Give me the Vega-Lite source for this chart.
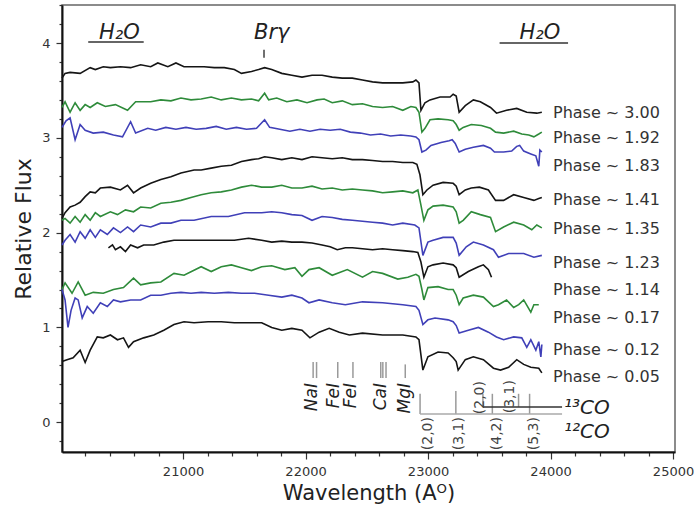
{
  "$schema": "https://vega.github.io/schema/vega-lite/v6.json",
  "width": 613,
  "height": 447,
  "autosize": {"type": "none"},
  "padding": {"left": 62, "top": 5, "right": 19, "bottom": 64},
  "background": "white",
  "config": {
    "font": "DejaVu Sans",
    "view": {"stroke": "#666", "strokeWidth": 1.5}
  },
  "datasets": {
    "spec": [
      {"s":"3.00","w":20012,"f":3.63},{"s":"3.00","w":20037,"f":3.68},{"s":"3.00","w":20078,"f":3.69},{"s":"3.00","w":20160,"f":3.68},{"s":"3.00","w":20242,"f":3.74},{"s":"3.00","w":20284,"f":3.72},{"s":"3.00","w":20349,"f":3.75},{"s":"3.00","w":20407,"f":3.74},{"s":"3.00","w":20489,"f":3.75},{"s":"3.00","w":20572,"f":3.74},{"s":"3.00","w":20654,"f":3.77},{"s":"3.00","w":20736,"f":3.75},{"s":"3.00","w":20794,"f":3.79},{"s":"3.00","w":20876,"f":3.75},{"s":"3.00","w":20942,"f":3.79},{"s":"3.00","w":21008,"f":3.75},{"s":"3.00","w":21090,"f":3.75},{"s":"3.00","w":21172,"f":3.75},{"s":"3.00","w":21255,"f":3.74},{"s":"3.00","w":21337,"f":3.74},{"s":"3.00","w":21419,"f":3.72},{"s":"3.00","w":21477,"f":3.68},{"s":"3.00","w":21559,"f":3.70},{"s":"3.00","w":21617,"f":3.72},{"s":"3.00","w":21666,"f":3.74},{"s":"3.00","w":21724,"f":3.72},{"s":"3.00","w":21806,"f":3.68},{"s":"3.00","w":21888,"f":3.66},{"s":"3.00","w":21971,"f":3.64},{"s":"3.00","w":22053,"f":3.66},{"s":"3.00","w":22135,"f":3.66},{"s":"3.00","w":22218,"f":3.64},{"s":"3.00","w":22300,"f":3.63},{"s":"3.00","w":22382,"f":3.63},{"s":"3.00","w":22465,"f":3.61},{"s":"3.00","w":22547,"f":3.59},{"s":"3.00","w":22629,"f":3.58},{"s":"3.00","w":22711,"f":3.58},{"s":"3.00","w":22794,"f":3.58},{"s":"3.00","w":22876,"f":3.59},{"s":"3.00","w":22901,"f":3.61},{"s":"3.00","w":22926,"f":3.58},{"s":"3.00","w":22942,"f":3.29},{"s":"3.00","w":22975,"f":3.37},{"s":"3.00","w":23016,"f":3.40},{"s":"3.00","w":23098,"f":3.43},{"s":"3.00","w":23180,"f":3.43},{"s":"3.00","w":23205,"f":3.46},{"s":"3.00","w":23230,"f":3.44},{"s":"3.00","w":23254,"f":3.27},{"s":"3.00","w":23304,"f":3.34},{"s":"3.00","w":23370,"f":3.40},{"s":"3.00","w":23427,"f":3.38},{"s":"3.00","w":23510,"f":3.32},{"s":"3.00","w":23559,"f":3.26},{"s":"3.00","w":23641,"f":3.29},{"s":"3.00","w":23724,"f":3.31},{"s":"3.00","w":23806,"f":3.27},{"s":"3.00","w":23888,"f":3.26},{"s":"3.00","w":23929,"f":3.27},

      {"s":"1.92","w":20012,"f":3.32},{"s":"1.92","w":20037,"f":3.38},{"s":"1.92","w":20078,"f":3.27},{"s":"1.92","w":20119,"f":3.37},{"s":"1.92","w":20160,"f":3.29},{"s":"1.92","w":20201,"f":3.35},{"s":"1.92","w":20242,"f":3.32},{"s":"1.92","w":20300,"f":3.37},{"s":"1.92","w":20366,"f":3.33},{"s":"1.92","w":20448,"f":3.35},{"s":"1.92","w":20547,"f":3.29},{"s":"1.92","w":20613,"f":3.38},{"s":"1.92","w":20736,"f":3.38},{"s":"1.92","w":20819,"f":3.40},{"s":"1.92","w":20901,"f":3.39},{"s":"1.92","w":20983,"f":3.42},{"s":"1.92","w":21065,"f":3.40},{"s":"1.92","w":21148,"f":3.41},{"s":"1.92","w":21230,"f":3.43},{"s":"1.92","w":21312,"f":3.40},{"s":"1.92","w":21395,"f":3.42},{"s":"1.92","w":21477,"f":3.40},{"s":"1.92","w":21559,"f":3.41},{"s":"1.92","w":21617,"f":3.39},{"s":"1.92","w":21666,"f":3.47},{"s":"1.92","w":21699,"f":3.40},{"s":"1.92","w":21765,"f":3.42},{"s":"1.92","w":21847,"f":3.38},{"s":"1.92","w":21930,"f":3.40},{"s":"1.92","w":22012,"f":3.37},{"s":"1.92","w":22094,"f":3.40},{"s":"1.92","w":22152,"f":3.41},{"s":"1.92","w":22218,"f":3.37},{"s":"1.92","w":22300,"f":3.39},{"s":"1.92","w":22382,"f":3.35},{"s":"1.92","w":22465,"f":3.36},{"s":"1.92","w":22547,"f":3.33},{"s":"1.92","w":22629,"f":3.32},{"s":"1.92","w":22711,"f":3.33},{"s":"1.92","w":22794,"f":3.29},{"s":"1.92","w":22860,"f":3.33},{"s":"1.92","w":22901,"f":3.32},{"s":"1.92","w":22926,"f":3.27},{"s":"1.92","w":22950,"f":3.06},{"s":"1.92","w":22975,"f":3.10},{"s":"1.92","w":23016,"f":3.19},{"s":"1.92","w":23082,"f":3.20},{"s":"1.92","w":23164,"f":3.19},{"s":"1.92","w":23205,"f":3.18},{"s":"1.92","w":23230,"f":3.14},{"s":"1.92","w":23254,"f":3.08},{"s":"1.92","w":23287,"f":3.11},{"s":"1.92","w":23353,"f":3.14},{"s":"1.92","w":23435,"f":3.13},{"s":"1.92","w":23510,"f":3.10},{"s":"1.92","w":23551,"f":3.06},{"s":"1.92","w":23617,"f":3.05},{"s":"1.92","w":23699,"f":3.07},{"s":"1.92","w":23765,"f":3.04},{"s":"1.92","w":23822,"f":3.03},{"s":"1.92","w":23864,"f":3.01},{"s":"1.92","w":23904,"f":3.04},{"s":"1.92","w":23929,"f":3.06},

      {"s":"1.83","w":20012,"f":3.11},{"s":"1.83","w":20045,"f":3.18},{"s":"1.83","w":20078,"f":3.21},{"s":"1.83","w":20119,"f":2.98},{"s":"1.83","w":20160,"f":3.14},{"s":"1.83","w":20201,"f":3.08},{"s":"1.83","w":20267,"f":3.05},{"s":"1.83","w":20349,"f":3.06},{"s":"1.83","w":20432,"f":3.03},{"s":"1.83","w":20506,"f":3.01},{"s":"1.83","w":20572,"f":3.17},{"s":"1.83","w":20613,"f":3.05},{"s":"1.83","w":20712,"f":3.10},{"s":"1.83","w":20777,"f":3.08},{"s":"1.83","w":20859,"f":3.11},{"s":"1.83","w":20942,"f":3.09},{"s":"1.83","w":21024,"f":3.11},{"s":"1.83","w":21107,"f":3.09},{"s":"1.83","w":21189,"f":3.10},{"s":"1.83","w":21271,"f":3.12},{"s":"1.83","w":21353,"f":3.09},{"s":"1.83","w":21436,"f":3.11},{"s":"1.83","w":21518,"f":3.09},{"s":"1.83","w":21600,"f":3.10},{"s":"1.83","w":21666,"f":3.19},{"s":"1.83","w":21707,"f":3.11},{"s":"1.83","w":21790,"f":3.09},{"s":"1.83","w":21872,"f":3.07},{"s":"1.83","w":21954,"f":3.09},{"s":"1.83","w":22036,"f":3.07},{"s":"1.83","w":22119,"f":3.09},{"s":"1.83","w":22201,"f":3.08},{"s":"1.83","w":22283,"f":3.09},{"s":"1.83","w":22366,"f":3.06},{"s":"1.83","w":22448,"f":3.05},{"s":"1.83","w":22530,"f":3.03},{"s":"1.83","w":22613,"f":3.04},{"s":"1.83","w":22695,"f":3.02},{"s":"1.83","w":22777,"f":3.03},{"s":"1.83","w":22859,"f":3.02},{"s":"1.83","w":22901,"f":3.01},{"s":"1.83","w":22926,"f":2.98},{"s":"1.83","w":22950,"f":2.85},{"s":"1.83","w":22983,"f":2.87},{"s":"1.83","w":23024,"f":2.92},{"s":"1.83","w":23106,"f":2.95},{"s":"1.83","w":23172,"f":2.97},{"s":"1.83","w":23197,"f":2.98},{"s":"1.83","w":23222,"f":2.94},{"s":"1.83","w":23254,"f":2.85},{"s":"1.83","w":23304,"f":2.88},{"s":"1.83","w":23370,"f":2.90},{"s":"1.83","w":23452,"f":2.92},{"s":"1.83","w":23510,"f":2.89},{"s":"1.83","w":23542,"f":2.85},{"s":"1.83","w":23617,"f":2.85},{"s":"1.83","w":23683,"f":2.86},{"s":"1.83","w":23724,"f":2.91},{"s":"1.83","w":23748,"f":2.92},{"s":"1.83","w":23781,"f":2.86},{"s":"1.83","w":23839,"f":2.83},{"s":"1.83","w":23880,"f":2.81},{"s":"1.83","w":23904,"f":2.70},{"s":"1.83","w":23913,"f":2.87},{"s":"1.83","w":23929,"f":2.85},

      {"s":"1.41","w":20012,"f":2.15},{"s":"1.41","w":20037,"f":2.21},{"s":"1.41","w":20078,"f":2.27},{"s":"1.41","w":20119,"f":2.29},{"s":"1.41","w":20160,"f":2.32},{"s":"1.41","w":20201,"f":2.38},{"s":"1.41","w":20242,"f":2.43},{"s":"1.41","w":20284,"f":2.42},{"s":"1.41","w":20325,"f":2.47},{"s":"1.41","w":20407,"f":2.48},{"s":"1.41","w":20489,"f":2.45},{"s":"1.41","w":20547,"f":2.50},{"s":"1.41","w":20596,"f":2.42},{"s":"1.41","w":20654,"f":2.47},{"s":"1.41","w":20736,"f":2.52},{"s":"1.41","w":20819,"f":2.56},{"s":"1.41","w":20901,"f":2.59},{"s":"1.41","w":20983,"f":2.63},{"s":"1.41","w":21090,"f":2.66},{"s":"1.41","w":21148,"f":2.66},{"s":"1.41","w":21230,"f":2.68},{"s":"1.41","w":21312,"f":2.70},{"s":"1.41","w":21395,"f":2.71},{"s":"1.41","w":21477,"f":2.75},{"s":"1.41","w":21559,"f":2.77},{"s":"1.41","w":21617,"f":2.78},{"s":"1.41","w":21666,"f":2.80},{"s":"1.41","w":21724,"f":2.79},{"s":"1.41","w":21806,"f":2.77},{"s":"1.41","w":21888,"f":2.79},{"s":"1.41","w":21971,"f":2.77},{"s":"1.41","w":22053,"f":2.80},{"s":"1.41","w":22135,"f":2.79},{"s":"1.41","w":22218,"f":2.78},{"s":"1.41","w":22300,"f":2.79},{"s":"1.41","w":22382,"f":2.77},{"s":"1.41","w":22465,"f":2.77},{"s":"1.41","w":22547,"f":2.76},{"s":"1.41","w":22629,"f":2.75},{"s":"1.41","w":22711,"f":2.75},{"s":"1.41","w":22794,"f":2.74},{"s":"1.41","w":22876,"f":2.74},{"s":"1.41","w":22909,"f":2.72},{"s":"1.41","w":22934,"f":2.61},{"s":"1.41","w":22958,"f":2.40},{"s":"1.41","w":22991,"f":2.45},{"s":"1.41","w":23041,"f":2.50},{"s":"1.41","w":23123,"f":2.53},{"s":"1.41","w":23205,"f":2.52},{"s":"1.41","w":23230,"f":2.49},{"s":"1.41","w":23254,"f":2.40},{"s":"1.41","w":23304,"f":2.45},{"s":"1.41","w":23353,"f":2.47},{"s":"1.41","w":23419,"f":2.48},{"s":"1.41","w":23493,"f":2.45},{"s":"1.41","w":23551,"f":2.34},{"s":"1.41","w":23617,"f":2.34},{"s":"1.41","w":23699,"f":2.40},{"s":"1.41","w":23781,"f":2.37},{"s":"1.41","w":23864,"f":2.34},{"s":"1.41","w":23904,"f":2.36},{"s":"1.41","w":23929,"f":2.37},

      {"s":"1.35","w":20012,"f":2.13},{"s":"1.35","w":20037,"f":2.15},{"s":"1.35","w":20078,"f":2.10},{"s":"1.35","w":20119,"f":2.17},{"s":"1.35","w":20160,"f":2.11},{"s":"1.35","w":20201,"f":2.19},{"s":"1.35","w":20242,"f":2.13},{"s":"1.35","w":20284,"f":2.21},{"s":"1.35","w":20325,"f":2.17},{"s":"1.35","w":20407,"f":2.22},{"s":"1.35","w":20465,"f":2.19},{"s":"1.35","w":20530,"f":2.24},{"s":"1.35","w":20596,"f":2.22},{"s":"1.35","w":20654,"f":2.27},{"s":"1.35","w":20736,"f":2.26},{"s":"1.35","w":20819,"f":2.31},{"s":"1.35","w":20901,"f":2.32},{"s":"1.35","w":20983,"f":2.34},{"s":"1.35","w":21065,"f":2.37},{"s":"1.35","w":21148,"f":2.40},{"s":"1.35","w":21230,"f":2.42},{"s":"1.35","w":21312,"f":2.43},{"s":"1.35","w":21395,"f":2.45},{"s":"1.35","w":21477,"f":2.48},{"s":"1.35","w":21559,"f":2.50},{"s":"1.35","w":21642,"f":2.48},{"s":"1.35","w":21724,"f":2.48},{"s":"1.35","w":21806,"f":2.50},{"s":"1.35","w":21888,"f":2.47},{"s":"1.35","w":21971,"f":2.47},{"s":"1.35","w":22053,"f":2.49},{"s":"1.35","w":22135,"f":2.46},{"s":"1.35","w":22218,"f":2.47},{"s":"1.35","w":22300,"f":2.45},{"s":"1.35","w":22382,"f":2.46},{"s":"1.35","w":22465,"f":2.45},{"s":"1.35","w":22547,"f":2.44},{"s":"1.35","w":22629,"f":2.42},{"s":"1.35","w":22711,"f":2.43},{"s":"1.35","w":22794,"f":2.44},{"s":"1.35","w":22876,"f":2.42},{"s":"1.35","w":22917,"f":2.45},{"s":"1.35","w":22942,"f":2.29},{"s":"1.35","w":22966,"f":2.13},{"s":"1.35","w":22999,"f":2.24},{"s":"1.35","w":23041,"f":2.28},{"s":"1.35","w":23123,"f":2.29},{"s":"1.35","w":23205,"f":2.27},{"s":"1.35","w":23230,"f":2.22},{"s":"1.35","w":23254,"f":2.10},{"s":"1.35","w":23287,"f":2.13},{"s":"1.35","w":23353,"f":2.22},{"s":"1.35","w":23427,"f":2.19},{"s":"1.35","w":23510,"f":2.16},{"s":"1.35","w":23551,"f":2.01},{"s":"1.35","w":23617,"f":2.06},{"s":"1.35","w":23699,"f":2.11},{"s":"1.35","w":23781,"f":2.08},{"s":"1.35","w":23847,"f":2.03},{"s":"1.35","w":23888,"f":2.08},{"s":"1.35","w":23929,"f":2.05},

      {"s":"1.23","w":20012,"f":1.87},{"s":"1.23","w":20037,"f":1.92},{"s":"1.23","w":20078,"f":1.98},{"s":"1.23","w":20119,"f":1.90},{"s":"1.23","w":20160,"f":2.01},{"s":"1.23","w":20201,"f":1.94},{"s":"1.23","w":20242,"f":2.03},{"s":"1.23","w":20284,"f":1.95},{"s":"1.23","w":20325,"f":2.03},{"s":"1.23","w":20382,"f":1.98},{"s":"1.23","w":20432,"f":2.05},{"s":"1.23","w":20489,"f":2.00},{"s":"1.23","w":20547,"f":2.06},{"s":"1.23","w":20596,"f":2.01},{"s":"1.23","w":20654,"f":2.08},{"s":"1.23","w":20736,"f":2.06},{"s":"1.23","w":20819,"f":2.10},{"s":"1.23","w":20901,"f":2.10},{"s":"1.23","w":20983,"f":2.13},{"s":"1.23","w":21090,"f":2.13},{"s":"1.23","w":21230,"f":2.17},{"s":"1.23","w":21370,"f":2.17},{"s":"1.23","w":21502,"f":2.21},{"s":"1.23","w":21642,"f":2.21},{"s":"1.23","w":21724,"f":2.22},{"s":"1.23","w":21806,"f":2.21},{"s":"1.23","w":21888,"f":2.19},{"s":"1.23","w":21971,"f":2.18},{"s":"1.23","w":22053,"f":2.13},{"s":"1.23","w":22135,"f":2.17},{"s":"1.23","w":22218,"f":2.16},{"s":"1.23","w":22300,"f":2.14},{"s":"1.23","w":22382,"f":2.13},{"s":"1.23","w":22465,"f":2.12},{"s":"1.23","w":22547,"f":2.11},{"s":"1.23","w":22629,"f":2.10},{"s":"1.23","w":22711,"f":2.08},{"s":"1.23","w":22794,"f":2.10},{"s":"1.23","w":22892,"f":2.08},{"s":"1.23","w":22926,"f":2.05},{"s":"1.23","w":22958,"f":1.76},{"s":"1.23","w":22999,"f":1.90},{"s":"1.23","w":23041,"f":1.92},{"s":"1.23","w":23123,"f":1.95},{"s":"1.23","w":23205,"f":1.95},{"s":"1.23","w":23230,"f":1.89},{"s":"1.23","w":23254,"f":1.76},{"s":"1.23","w":23312,"f":1.85},{"s":"1.23","w":23370,"f":1.90},{"s":"1.23","w":23452,"f":1.87},{"s":"1.23","w":23534,"f":1.82},{"s":"1.23","w":23575,"f":1.74},{"s":"1.23","w":23658,"f":1.78},{"s":"1.23","w":23781,"f":1.78},{"s":"1.23","w":23864,"f":1.74},{"s":"1.23","w":23929,"f":1.76},

      {"s":"1.14","w":20391,"f":1.84},{"s":"1.14","w":20424,"f":1.87},{"s":"1.14","w":20448,"f":1.82},{"s":"1.14","w":20489,"f":1.85},{"s":"1.14","w":20530,"f":1.80},{"s":"1.14","w":20572,"f":1.87},{"s":"1.14","w":20629,"f":1.84},{"s":"1.14","w":20679,"f":1.87},{"s":"1.14","w":20761,"f":1.87},{"s":"1.14","w":20843,"f":1.90},{"s":"1.14","w":20926,"f":1.92},{"s":"1.14","w":21041,"f":1.92},{"s":"1.14","w":21148,"f":1.92},{"s":"1.14","w":21288,"f":1.92},{"s":"1.14","w":21419,"f":1.92},{"s":"1.14","w":21535,"f":1.94},{"s":"1.14","w":21642,"f":1.92},{"s":"1.14","w":21724,"f":1.90},{"s":"1.14","w":21806,"f":1.91},{"s":"1.14","w":21888,"f":1.90},{"s":"1.14","w":21971,"f":1.90},{"s":"1.14","w":22053,"f":1.89},{"s":"1.14","w":22135,"f":1.87},{"s":"1.14","w":22201,"f":1.85},{"s":"1.14","w":22259,"f":1.82},{"s":"1.14","w":22325,"f":1.84},{"s":"1.14","w":22382,"f":1.84},{"s":"1.14","w":22465,"f":1.83},{"s":"1.14","w":22547,"f":1.82},{"s":"1.14","w":22629,"f":1.83},{"s":"1.14","w":22711,"f":1.82},{"s":"1.14","w":22794,"f":1.81},{"s":"1.14","w":22876,"f":1.80},{"s":"1.14","w":22917,"f":1.79},{"s":"1.14","w":22942,"f":1.69},{"s":"1.14","w":22966,"f":1.53},{"s":"1.14","w":22999,"f":1.64},{"s":"1.14","w":23041,"f":1.66},{"s":"1.14","w":23123,"f":1.68},{"s":"1.14","w":23205,"f":1.66},{"s":"1.14","w":23230,"f":1.63},{"s":"1.14","w":23254,"f":1.53},{"s":"1.14","w":23329,"f":1.59},{"s":"1.14","w":23411,"f":1.64},{"s":"1.14","w":23452,"f":1.66},{"s":"1.14","w":23493,"f":1.61},{"s":"1.14","w":23518,"f":1.53},

      {"s":"0.17","w":20012,"f":1.40},{"s":"0.17","w":20037,"f":1.47},{"s":"0.17","w":20094,"f":1.36},{"s":"0.17","w":20144,"f":1.48},{"s":"0.17","w":20201,"f":1.34},{"s":"0.17","w":20267,"f":1.37},{"s":"0.17","w":20349,"f":1.36},{"s":"0.17","w":20432,"f":1.40},{"s":"0.17","w":20514,"f":1.42},{"s":"0.17","w":20596,"f":1.52},{"s":"0.17","w":20654,"f":1.45},{"s":"0.17","w":20736,"f":1.47},{"s":"0.17","w":20819,"f":1.48},{"s":"0.17","w":20926,"f":1.57},{"s":"0.17","w":21008,"f":1.55},{"s":"0.17","w":21148,"f":1.64},{"s":"0.17","w":21230,"f":1.59},{"s":"0.17","w":21312,"f":1.64},{"s":"0.17","w":21395,"f":1.66},{"s":"0.17","w":21477,"f":1.63},{"s":"0.17","w":21559,"f":1.60},{"s":"0.17","w":21642,"f":1.64},{"s":"0.17","w":21724,"f":1.65},{"s":"0.17","w":21831,"f":1.61},{"s":"0.17","w":21913,"f":1.63},{"s":"0.17","w":21971,"f":1.54},{"s":"0.17","w":22028,"f":1.61},{"s":"0.17","w":22111,"f":1.63},{"s":"0.17","w":22218,"f":1.55},{"s":"0.17","w":22341,"f":1.61},{"s":"0.17","w":22465,"f":1.53},{"s":"0.17","w":22547,"f":1.59},{"s":"0.17","w":22629,"f":1.57},{"s":"0.17","w":22753,"f":1.51},{"s":"0.17","w":22835,"f":1.53},{"s":"0.17","w":22901,"f":1.56},{"s":"0.17","w":22926,"f":1.54},{"s":"0.17","w":22950,"f":1.40},{"s":"0.17","w":22966,"f":1.29},{"s":"0.17","w":22999,"f":1.42},{"s":"0.17","w":23082,"f":1.43},{"s":"0.17","w":23164,"f":1.40},{"s":"0.17","w":23205,"f":1.40},{"s":"0.17","w":23230,"f":1.34},{"s":"0.17","w":23254,"f":1.24},{"s":"0.17","w":23287,"f":1.31},{"s":"0.17","w":23370,"f":1.34},{"s":"0.17","w":23452,"f":1.32},{"s":"0.17","w":23534,"f":1.22},{"s":"0.17","w":23575,"f":1.24},{"s":"0.17","w":23641,"f":1.29},{"s":"0.17","w":23699,"f":1.21},{"s":"0.17","w":23740,"f":1.24},{"s":"0.17","w":23781,"f":1.29},{"s":"0.17","w":23839,"f":1.16},{"s":"0.17","w":23864,"f":1.24},{"s":"0.17","w":23904,"f":1.24},

      {"s":"0.12","w":20012,"f":1.40},{"s":"0.12","w":20037,"f":1.29},{"s":"0.12","w":20061,"f":1.00},{"s":"0.12","w":20086,"f":1.18},{"s":"0.12","w":20119,"f":1.31},{"s":"0.12","w":20144,"f":1.29},{"s":"0.12","w":20177,"f":1.10},{"s":"0.12","w":20218,"f":1.22},{"s":"0.12","w":20267,"f":1.15},{"s":"0.12","w":20325,"f":1.26},{"s":"0.12","w":20382,"f":1.22},{"s":"0.12","w":20432,"f":1.29},{"s":"0.12","w":20489,"f":1.27},{"s":"0.12","w":20572,"f":1.29},{"s":"0.12","w":20654,"f":1.29},{"s":"0.12","w":20736,"f":1.34},{"s":"0.12","w":20819,"f":1.34},{"s":"0.12","w":20901,"f":1.36},{"s":"0.12","w":20983,"f":1.37},{"s":"0.12","w":21065,"f":1.36},{"s":"0.12","w":21148,"f":1.37},{"s":"0.12","w":21255,"f":1.36},{"s":"0.12","w":21370,"f":1.37},{"s":"0.12","w":21477,"f":1.36},{"s":"0.12","w":21584,"f":1.36},{"s":"0.12","w":21699,"f":1.34},{"s":"0.12","w":21806,"f":1.32},{"s":"0.12","w":21888,"f":1.34},{"s":"0.12","w":21971,"f":1.31},{"s":"0.12","w":22028,"f":1.26},{"s":"0.12","w":22111,"f":1.29},{"s":"0.12","w":22218,"f":1.26},{"s":"0.12","w":22325,"f":1.24},{"s":"0.12","w":22465,"f":1.27},{"s":"0.12","w":22629,"f":1.26},{"s":"0.12","w":22794,"f":1.24},{"s":"0.12","w":22901,"f":1.22},{"s":"0.12","w":22926,"f":1.18},{"s":"0.12","w":22958,"f":1.03},{"s":"0.12","w":22999,"f":1.08},{"s":"0.12","w":23057,"f":1.10},{"s":"0.12","w":23164,"f":1.08},{"s":"0.12","w":23205,"f":1.06},{"s":"0.12","w":23230,"f":1.02},{"s":"0.12","w":23254,"f":0.94},{"s":"0.12","w":23329,"f":0.97},{"s":"0.12","w":23411,"f":1.00},{"s":"0.12","w":23493,"f":0.95},{"s":"0.12","w":23559,"f":0.90},{"s":"0.12","w":23617,"f":0.87},{"s":"0.12","w":23699,"f":0.90},{"s":"0.12","w":23765,"f":0.89},{"s":"0.12","w":23806,"f":0.79},{"s":"0.12","w":23839,"f":0.87},{"s":"0.12","w":23880,"f":0.76},{"s":"0.12","w":23904,"f":0.85},{"s":"0.12","w":23921,"f":0.69},{"s":"0.12","w":23929,"f":0.82},

      {"s":"0.05","w":20012,"f":0.64},{"s":"0.05","w":20053,"f":0.66},{"s":"0.05","w":20103,"f":0.68},{"s":"0.05","w":20160,"f":0.76},{"s":"0.05","w":20201,"f":0.63},{"s":"0.05","w":20242,"f":0.76},{"s":"0.05","w":20300,"f":0.90},{"s":"0.05","w":20349,"f":0.89},{"s":"0.05","w":20407,"f":0.92},{"s":"0.05","w":20465,"f":0.87},{"s":"0.05","w":20514,"f":0.89},{"s":"0.05","w":20555,"f":0.79},{"s":"0.05","w":20596,"f":0.85},{"s":"0.05","w":20679,"f":0.89},{"s":"0.05","w":20761,"f":0.92},{"s":"0.05","w":20843,"f":0.97},{"s":"0.05","w":20926,"f":1.03},{"s":"0.05","w":21008,"f":1.06},{"s":"0.05","w":21090,"f":1.05},{"s":"0.05","w":21205,"f":1.06},{"s":"0.05","w":21312,"f":1.06},{"s":"0.05","w":21419,"f":1.05},{"s":"0.05","w":21535,"f":1.05},{"s":"0.05","w":21642,"f":1.05},{"s":"0.05","w":21724,"f":1.00},{"s":"0.05","w":21806,"f":0.97},{"s":"0.05","w":21888,"f":0.99},{"s":"0.05","w":21971,"f":0.97},{"s":"0.05","w":22036,"f":0.89},{"s":"0.05","w":22111,"f":0.95},{"s":"0.05","w":22193,"f":0.99},{"s":"0.05","w":22275,"f":0.95},{"s":"0.05","w":22358,"f":0.92},{"s":"0.05","w":22465,"f":0.94},{"s":"0.05","w":22629,"f":0.92},{"s":"0.05","w":22794,"f":0.92},{"s":"0.05","w":22901,"f":0.90},{"s":"0.05","w":22926,"f":0.87},{"s":"0.05","w":22958,"f":0.55},{"s":"0.05","w":22999,"f":0.69},{"s":"0.05","w":23082,"f":0.74},{"s":"0.05","w":23164,"f":0.73},{"s":"0.05","w":23205,"f":0.68},{"s":"0.05","w":23230,"f":0.64},{"s":"0.05","w":23246,"f":0.55},{"s":"0.05","w":23304,"f":0.66},{"s":"0.05","w":23370,"f":0.69},{"s":"0.05","w":23452,"f":0.66},{"s":"0.05","w":23534,"f":0.57},{"s":"0.05","w":23592,"f":0.55},{"s":"0.05","w":23658,"f":0.58},{"s":"0.05","w":23724,"f":0.66},{"s":"0.05","w":23781,"f":0.61},{"s":"0.05","w":23839,"f":0.58},{"s":"0.05","w":23904,"f":0.57},{"s":"0.05","w":23929,"f":0.52}
    ],
    "phases": [
      {"t":"Phase ~ 3.00","w":24020,"f":3.26},
      {"t":"Phase ~ 1.92","w":24020,"f":3.00},
      {"t":"Phase ~ 1.83","w":24020,"f":2.70},
      {"t":"Phase ~ 1.41","w":24020,"f":2.34},
      {"t":"Phase ~ 1.35","w":24020,"f":2.04},
      {"t":"Phase ~ 1.23","w":24020,"f":1.68},
      {"t":"Phase ~ 1.14","w":24020,"f":1.39},
      {"t":"Phase ~ 0.17","w":24020,"f":1.10},
      {"t":"Phase ~ 0.12","w":24020,"f":0.76},
      {"t":"Phase ~ 0.05","w":24020,"f":0.48}
    ],
    "grayTicks": [
      {"w":22062,"f":0.635,"f2":0.466},{"w":22090,"f":0.635,"f2":0.466},
      {"w":22263,"f":0.635,"f2":0.466},{"w":22387,"f":0.635,"f2":0.466},
      {"w":22614,"f":0.635,"f2":0.466},{"w":22631,"f":0.635,"f2":0.466},{"w":22657,"f":0.635,"f2":0.466},
      {"w":22814,"f":0.61,"f2":0.466},
      {"w":22935,"f":0.30,"f2":0.087},{"w":23227,"f":0.33,"f2":0.087},{"w":23525,"f":0.30,"f2":0.087},{"w":23829,"f":0.30,"f2":0.087},
      {"w":23448,"f":0.30,"f2":0.161},{"w":23739,"f":0.30,"f2":0.161}
    ],
    "blackTicks": [
      {"w":21661,"f":3.93,"f2":3.845}
    ],
    "blackHLines": [
      {"w":20226,"w2":20679,"f":4.011},
      {"w":23584,"w2":24143,"f":4.0},
      {"w":23448,"w2":24094,"f":0.161}
    ],
    "grayHLines": [
      {"w":22935,"w2":24094,"f":0.087}
    ],
    "topLabels": [
      {"t":"H₂O","w":20481,"f":4.04},
      {"t":"Brγ","w":21724,"f":4.04},
      {"t":"H₂O","w":23913,"f":4.04}
    ],
    "atomLabels": [
      {"t":"NaI","w":22053,"f":0.414},
      {"t":"FeI","w":22234,"f":0.414},
      {"t":"FeI","w":22374,"f":0.414},
      {"t":"CaI","w":22613,"f":0.414},
      {"t":"MgI","w":22810,"f":0.414}
    ],
    "coLabels": [
      {"t":"(2,0)","w":22999,"f":0.055},
      {"t":"(3,1)","w":23254,"f":0.055},
      {"t":"(4,2)","w":23567,"f":0.055},
      {"t":"(5,3)","w":23864,"f":0.055},
      {"t":"(2,0)","w":23427,"f":0.435},
      {"t":"(3,1)","w":23666,"f":0.445}
    ],
    "coNames": [
      {"t":"¹³CO","w":24110,"f":0.085},
      {"t":"¹²CO","w":24110,"f":-0.165}
    ]
  },
  "encoding": {
    "x": {
      "field": "w", "type": "quantitative",
      "scale": {"domain": [20012, 25016], "nice": false, "zero": false},
      "axis": {
        "title": "Wavelength (Aᴼ)",
        "titleFontSize": 21, "titleFontWeight": "normal", "titleColor": "#222", "titlePadding": 4,
        "values": [20200,20400,20600,20800,21000,21200,21400,21600,21800,22000,22200,22400,22600,22800,23000,23200,23400,23600,23800,24000,24200,24400,24600,24800,25000],
        "labelExpr": "datum.value % 1000 === 0 ? format(datum.value, 'd') : ''",
        "tickSize": {"condition": {"test": "datum.value % 1000 === 0", "value": 7}, "value": 4},
        "tickColor": "#333", "tickWidth": 1.2,
        "domainColor": "#111", "domainWidth": 2,
        "labelFontSize": 13, "labelColor": "#333", "labelPadding": 6,
        "grid": false
      }
    },
    "y": {
      "field": "f", "type": "quantitative",
      "scale": {"domain": [-0.314, 4.401], "nice": false, "zero": false},
      "axis": {
        "title": "Relative Flux",
        "titleFontSize": 22, "titleFontWeight": "normal", "titleColor": "#222", "titlePadding": 6,
        "values": [-0.2,0,0.2,0.4,0.6,0.8,1,1.2,1.4,1.6,1.8,2,2.2,2.4,2.6,2.8,3,3.2,3.4,3.6,3.8,4,4.2,4.4],
        "labelExpr": "datum.value % 1 === 0 ? format(datum.value, 'd') : ''",
        "tickSize": {"condition": {"test": "datum.value % 1 === 0", "value": 6}, "value": 3},
        "tickColor": "#333", "tickWidth": 1.2,
        "domainColor": "#111", "domainWidth": 2,
        "labelFontSize": 13, "labelColor": "#333", "labelPadding": 6,
        "grid": false
      }
    }
  },
  "layer": [
    {
      "data": {"name": "spec"},
      "mark": {"type": "line", "strokeWidth": 1.6, "interpolate": "linear"},
      "encoding": {
        "color": {
          "field": "s", "type": "nominal", "legend": null,
          "scale": {
            "domain": ["3.00","1.92","1.83","1.41","1.35","1.23","1.14","0.17","0.12","0.05"],
            "range": ["#151515","#2e8b3a","#4040b8","#151515","#2e8b3a","#4040b8","#151515","#2e8b3a","#4040b8","#151515"]
          }
        },
        "detail": {"field": "s"}
      }
    },
    {
      "data": {"name": "phases"},
      "mark": {"type": "text", "align": "left", "baseline": "middle", "fontSize": 16, "color": "#333"},
      "encoding": {"text": {"field": "t"}}
    },
    {
      "data": {"name": "grayTicks"},
      "mark": {"type": "rule", "color": "#9a9a9a", "strokeWidth": 1.5},
      "encoding": {"y2": {"field": "f2"}}
    },
    {
      "data": {"name": "blackTicks"},
      "mark": {"type": "rule", "color": "#222", "strokeWidth": 1.3},
      "encoding": {"y2": {"field": "f2"}}
    },
    {
      "data": {"name": "blackHLines"},
      "mark": {"type": "rule", "color": "#333", "strokeWidth": 1.5},
      "encoding": {"x2": {"field": "w2"}}
    },
    {
      "data": {"name": "grayHLines"},
      "mark": {"type": "rule", "color": "#aaaaaa", "strokeWidth": 1.5},
      "encoding": {"x2": {"field": "w2"}}
    },
    {
      "data": {"name": "topLabels"},
      "mark": {"type": "text", "align": "center", "baseline": "alphabetic", "fontSize": 21, "fontStyle": "italic", "color": "#222"},
      "encoding": {"text": {"field": "t"}}
    },
    {
      "data": {"name": "atomLabels"},
      "mark": {"type": "text", "angle": 270, "align": "right", "baseline": "middle", "fontSize": 17, "fontStyle": "italic", "color": "#222"},
      "encoding": {"text": {"field": "t"}}
    },
    {
      "data": {"name": "coLabels"},
      "mark": {"type": "text", "angle": 270, "align": "right", "baseline": "middle", "fontSize": 14, "color": "#444"},
      "encoding": {"text": {"field": "t"}}
    },
    {
      "data": {"name": "coNames"},
      "mark": {"type": "text", "align": "left", "baseline": "alphabetic", "fontSize": 20, "fontStyle": "italic", "color": "#222"},
      "encoding": {"text": {"field": "t"}}
    }
  ]
}
